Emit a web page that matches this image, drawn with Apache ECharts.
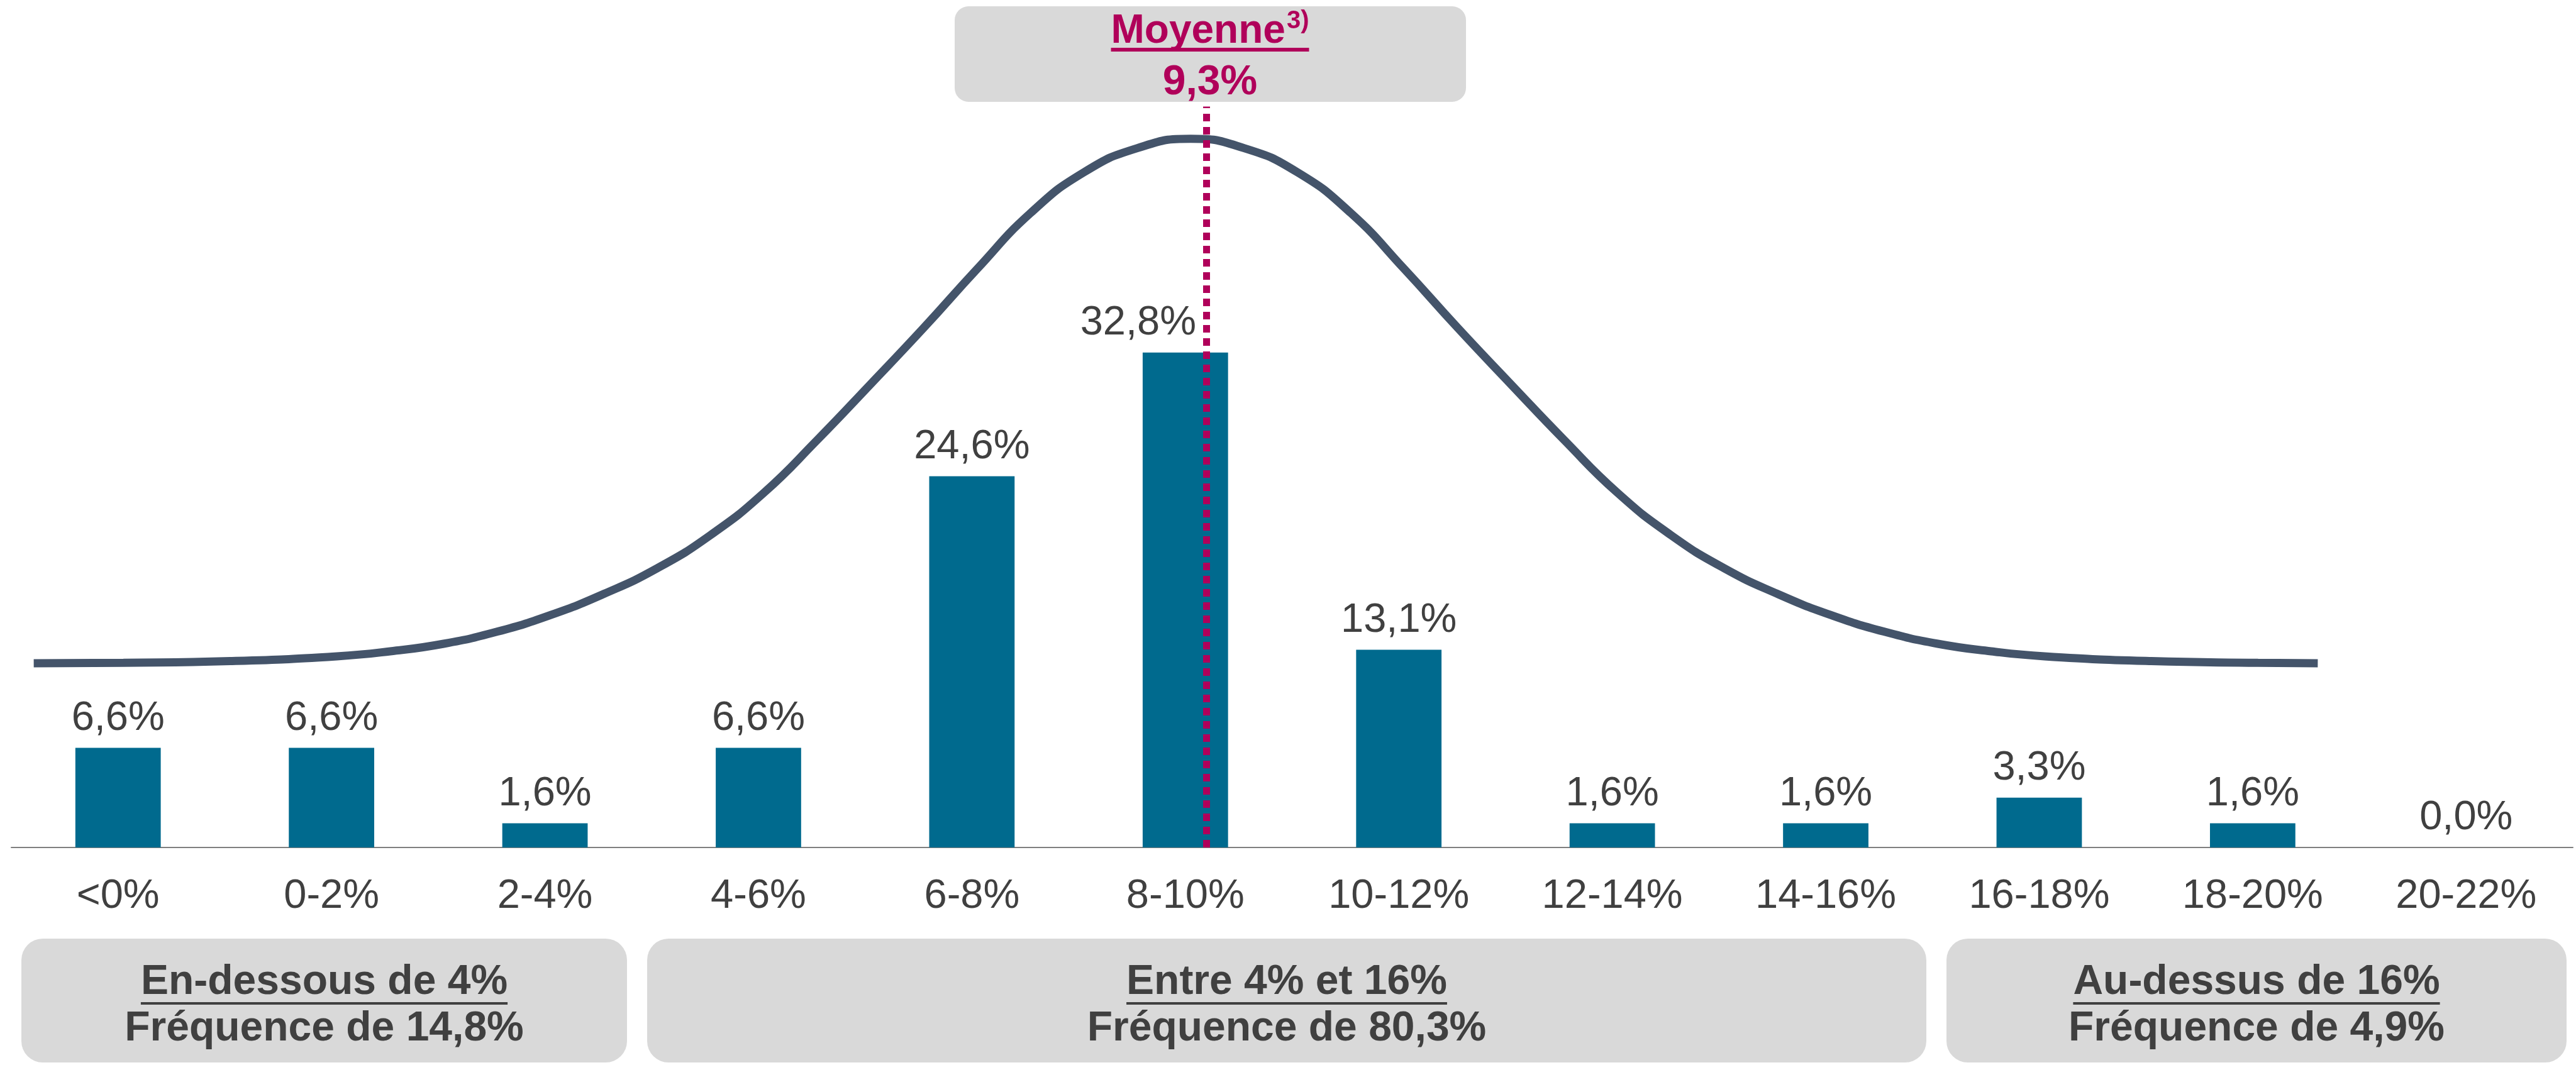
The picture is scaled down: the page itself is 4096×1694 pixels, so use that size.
<!DOCTYPE html>
<html>
<head>
<meta charset="utf-8">
<script src="https://cdn.jsdelivr.net/npm/echarts@6/dist/echarts.min.js"></script>
<style>
  html, body { margin: 0; padding: 0; background: #ffffff; }
  #chart { width: 4096px; height: 1694px; }
</style>
</head>
<body>
<div id="chart"></div>
<script>
// bins and frequencies (%)
const categories = ["<0%", "0-2%", "2-4%", "4-6%", "6-8%", "8-10%", "10-12%", "12-14%", "14-16%", "16-18%", "18-20%", "20-22%"];
const frequencies = [6.6, 6.6, 1.6, 6.6, 24.6, 32.8, 13.1, 1.6, 1.6, 3.3, 1.6, 0.0];

// bell curve (x in % return, y on the same scale as the bars)
const curveX = [-1.79, -0.95, 0.05, 1.05, 1.55, 2.05, 2.55, 3.05, 3.55, 4.05, 4.55, 5.05, 5.55, 6.05, 6.55, 7.05, 7.55, 8.05, 8.55, 9.05,
  9.55, 10.05, 10.55, 11.05, 11.55, 12.05, 12.55, 13.05, 13.55, 14.05, 14.55, 15.05, 15.55, 16.05, 16.55, 17.05, 18.05, 19.05, 19.61];
const curveY = [12.21, 12.24, 12.35, 12.67, 13.0, 13.5, 14.3, 15.4, 16.8, 18.5, 20.7, 23.5, 27.0, 30.7, 34.45, 38.35, 42.05, 44.75, 46.35, 46.97,
  46.35, 44.75, 42.05, 38.35, 34.45, 30.7, 27.0, 23.5, 20.7, 18.5, 16.8, 15.4, 14.3, 13.5, 13.0, 12.67, 12.35, 12.24, 12.21];

// mean marker
const meanTitle = "Moyenne";
const meanNote = "3)";
const meanLabel = "9,3%";
const meanPosition = 9.2;
const meanLineTop = 49.1;

// group boxes under the axis
const groupTitles = ["En-dessous de 4%", "Entre 4% et 16%", "Au-dessus de 16%"];
const groupTexts = ["Fréquence de 14,8%", "Fréquence de 80,3%", "Fréquence de 4,9%"];

const FONT = "'Liberation Sans', Arial, sans-serif";
const TEXT_COLOR = "#404040";
const MEAN_COLOR = "#B0005A";
const BOX_COLOR = "#D9D9D9";

const measureCtx = document.createElement("canvas").getContext("2d");
function textWidth(text, size, weight) {
  measureCtx.font = weight + " " + size + "px 'Liberation Sans'";
  return measureCtx.measureText(text).width;
}

function label(text, x, y, size, weight, color) {
  return {
    type: "text",
    x: x,
    y: y,
    z: 100,
    style: {
      text: text,
      fill: color,
      fontSize: size,
      fontWeight: weight,
      fontFamily: FONT,
      align: "left",
      verticalAlign: "middle",
      textAlign: "left",
      textVerticalAlign: "middle",
    },
  };
}

function box(x, y, w, h, r) {
  return {
    type: "rect",
    z: 90,
    shape: { x: x, y: y, width: w, height: h, r: r },
    style: { fill: BOX_COLOR },
  };
}

function underline(x, y, w, h, color) {
  return {
    type: "rect",
    z: 100,
    shape: { x: x, y: y, width: w, height: h },
    style: { fill: color },
  };
}

// centered two-line box text, first line underlined
function groupLabel(cx, title, text) {
  const wTitle = textWidth(title, 66, "bold");
  const wText = textWidth(text, 66, "bold");
  return [
    label(title, cx - wTitle / 2, 1563, 66, "bold", TEXT_COLOR),
    underline(cx - wTitle / 2, 1594, wTitle, 4, TEXT_COLOR),
    label(text, cx - wText / 2, 1637, 66, "bold", TEXT_COLOR),
  ];
}

const graphics = [];
// mean box
graphics.push(box(1518, 10, 813, 152, 22));
const wMean = textWidth(meanTitle, 64, "bold");
const wNote = textWidth(meanNote, 40, "bold");
const meanStart = 1924 - (wMean + wNote + 2) / 2;
graphics.push(label(meanTitle, meanStart, 50, 64, "bold", MEAN_COLOR));
graphics.push(label(meanNote, meanStart + wMean + 2, 34, 40, "bold", MEAN_COLOR));
graphics.push(underline(meanStart, 76, wMean + wNote + 2, 6, MEAN_COLOR));
const wVal = textWidth(meanLabel, 66, "bold");
graphics.push(label(meanLabel, 1924 - wVal / 2, 132, 66, "bold", MEAN_COLOR));

// bottom boxes
const groupBoxes = [[34, 963], [1029, 2034], [3095, 986]];
groupBoxes.forEach(function (b, i) {
  graphics.push(box(b[0], 1493, b[1], 197, 34));
  groupLabel(b[0] + b[1] / 2, groupTitles[i], groupTexts[i]).forEach(function (g) {
    graphics.push(g);
  });
});

const chart = echarts.init(document.getElementById("chart"));
chart.setOption({
  animation: false,
  backgroundColor: "#ffffff",
  grid: { left: 18, right: 5, top: 148, bottom: 346 },
  xAxis: [
    {
      type: "category",
      data: categories,
      boundaryGap: true,
      axisTick: { show: false },
      axisLine: { lineStyle: { color: "#7F7F7F", width: 2 } },
      axisLabel: {
        interval: 0,
        margin: 46,
        fontSize: 65,
        fontFamily: FONT,
        color: TEXT_COLOR,
      },
    },
    {
      type: "value",
      min: -2,
      max: 22,
      show: false,
    },
  ],
  yAxis: {
    type: "value",
    min: 0,
    max: 50,
    show: false,
    splitLine: { show: false },
  },
  series: [
    {
      name: "Fréquence",
      type: "bar",
      barWidth: "40%",
      itemStyle: { color: "#006A8E" },
      label: {
        show: true,
        position: "top",
        distance: 14,
        fontSize: 65,
        fontFamily: FONT,
        color: TEXT_COLOR,
        formatter: function (p) {
          return p.value.toFixed(1).replace(".", ",") + "%";
        },
      },
      data: frequencies.map(function (v, i) {
        // the tallest label sits left of the mean line
        if (i === 5) return { value: v, label: { offset: [-75, 0] } };
        return v;
      }),
    },
    {
      name: "Distribution",
      type: "line",
      xAxisIndex: 1,
      smooth: 0.5,
      showSymbol: false,
      symbol: "none",
      lineStyle: { color: "#44546A", width: 13 },
      data: curveX.map(function (x, i) {
        return [x, curveY[i]];
      }),
      markLine: {
        silent: true,
        symbol: "none",
        label: { show: false },
        lineStyle: { color: MEAN_COLOR, width: 11, type: [12, 9] },
        data: [[{ coord: [meanPosition, 0] }, { coord: [meanPosition, meanLineTop] }]],
      },
    },
  ],
  graphic: graphics,
});
</script>
</body>
</html>
